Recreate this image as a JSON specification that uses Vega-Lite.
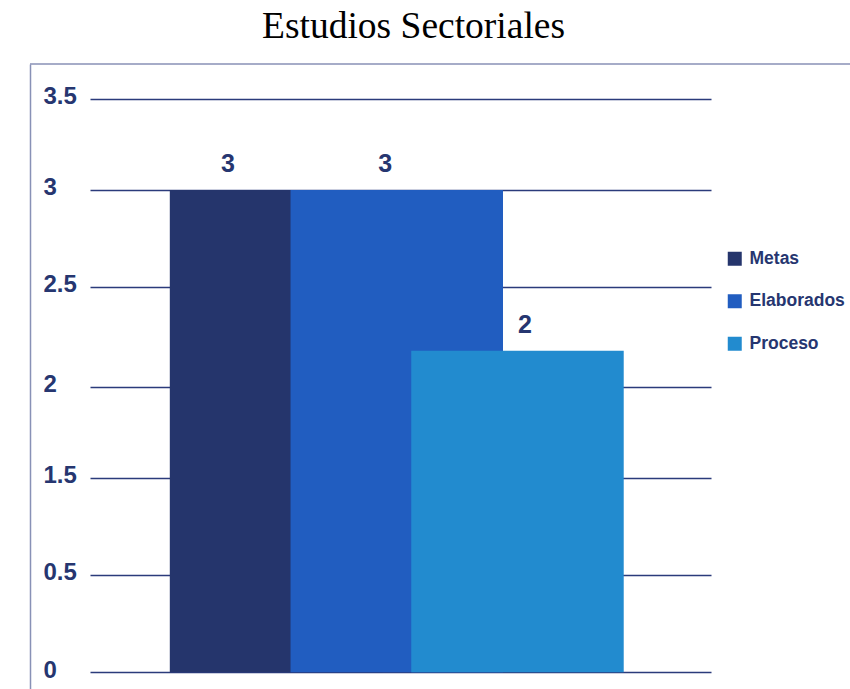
{
  "$schema": "https://vega.github.io/schema/vega-lite/v6.json",
  "autosize": {"type": "none"},
  "padding": {"left": 90, "right": 139, "top": 64, "bottom": 0},
  "width": 621,
  "height": 625,
  "background": "#ffffff",
  "config": {"view": {"stroke": null}},
  "title": {
    "text": "Estudios Sectoriales",
    "font": "Liberation Serif",
    "fontSize": 37.5,
    "fontWeight": "normal",
    "color": "#000000",
    "anchor": "middle",
    "dx": 13,
    "offset": 18
  },
  "data": {
    "values": [
      {"Grupo": "Metas", "Cantidad": 3},
      {"Grupo": "Elaborados", "Cantidad": 3},
      {"Grupo": "Proceso", "Cantidad": 2}
    ]
  },
  "layer": [
    {
      "mark": {"type": "bar", "width": {"band": 1.76}},
      "encoding": {
        "x": {
          "field": "Grupo",
          "type": "nominal",
          "sort": null,
          "scale": {"domain": ["Metas", "Elaborados", "Proceso", " "], "paddingInner": 0, "paddingOuter": 0.572, "align": 0.91},
          "axis": null
        },
        "y": {
          "field": "Cantidad",
          "type": "quantitative",
          "scale": {"domain": [-0.1039, 3.7837], "nice": false, "zero": false},
          "axis": {
            "orient": "left",
            "offset": 60,
            "title": null,
            "domain": true,
            "domainColor": "#8891b6",
            "domainWidth": 1.5,
            "ticks": false,
            "grid": true,
            "gridColor": "#2b3b7b",
            "gridWidth": 1.4,
            "values": [0, 0.6071, 1.2104, 1.7764, 2.3985, 3, 3.5685],
            "labelExpr": "datum.value > 3.3 ? '3.5' : datum.value > 2.7 ? '3' : datum.value > 2.1 ? '2.5' : datum.value > 1.5 ? '2' : datum.value > 0.9 ? '1.5' : datum.value > 0.3 ? '0.5' : '0'",
            "labelAlign": "left",
            "labelBaseline": "middle",
            "labelPadding": -13,
            "labelOffset": -2,
            "labelFont": "Liberation Sans",
            "labelFontSize": 24,
            "labelFontWeight": "bold",
            "labelColor": "#263670"
          }
        },
        "y2": {"datum": 0},
        "color": {
          "field": "Grupo",
          "type": "nominal",
          "sort": null,
          "scale": {"domain": ["Metas", "Elaborados", "Proceso"], "range": ["#25356c", "#215dc0", "#228bcf"]},
          "legend": {
            "title": null,
            "orient": "none",
            "legendX": 636,
            "legendY": 186,
            "padding": 0,
            "symbolType": "square",
            "symbolSize": 196,
            "symbolStrokeWidth": 0,
            "labelFont": "Liberation Sans",
            "labelFontSize": 17.5,
            "labelFontWeight": "bold",
            "labelColor": "#263670",
            "labelOffset": 6,
            "rowPadding": 23.5
          }
        }
      }
    },
    {
      "mark": {
        "type": "text",
        "font": "Liberation Sans",
        "fontSize": 25,
        "fontWeight": "bold",
        "color": "#263670",
        "baseline": "alphabetic",
        "dy": -17.5,
        "dx": {"expr": "datum.Grupo == 'Metas' ? -48 : datum.Grupo == 'Elaborados' ? -11.5 : 7.5"}
      },
      "encoding": {
        "x": {"field": "Grupo", "type": "nominal", "sort": null},
        "y": {"field": "Cantidad", "type": "quantitative"},
        "text": {"field": "Cantidad", "type": "quantitative"}
      }
    },
    {
      "data": {"values": [{}]},
      "mark": {"type": "rule", "color": "#8891b6", "strokeWidth": 1.5},
      "encoding": {
        "x": {"datum": "Metas", "bandPosition": -1.538},
        "x2": {"datum": "Proceso", "bandPosition": 3.2546},
        "y": {"datum": 3.7837}
      }
    }
  ]
}
